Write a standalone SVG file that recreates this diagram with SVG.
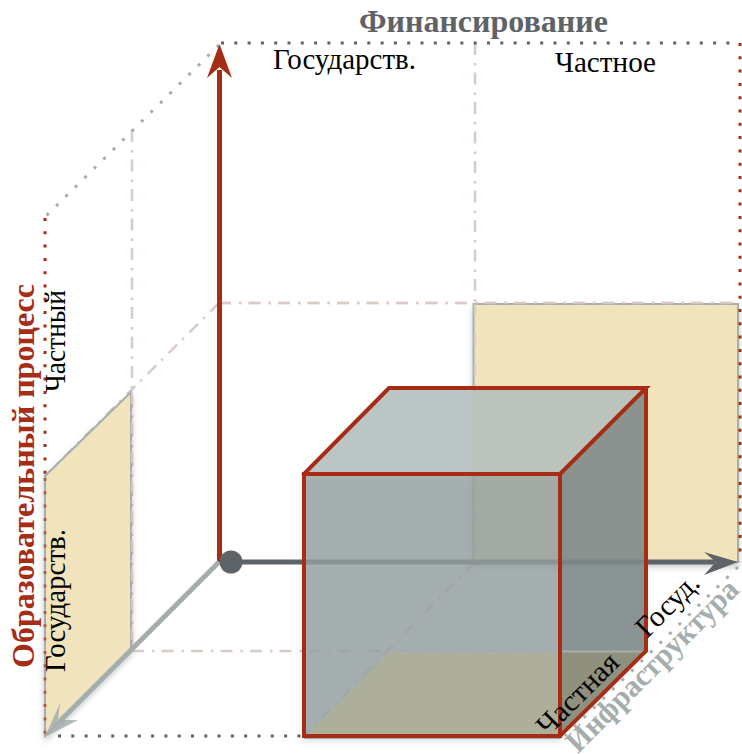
<svg xmlns="http://www.w3.org/2000/svg" width="742" height="754" viewBox="0 0 742 754">
<defs>
<style>
.dd{fill:none;stroke:#D9CBC6;stroke-width:2.5;stroke-dasharray:12 8 2.5 7}
.dot{fill:none;stroke-width:3;stroke-dasharray:3 10.3}
.t{font-family:"Liberation Serif",serif;font-size:29.5px;fill:#000}
.b{font-family:"Liberation Serif",serif;font-size:31px;font-weight:bold}
.r{stroke:#A62C15;stroke-width:4;fill:none;stroke-linejoin:miter;stroke-linecap:square}
</style>
<filter id="s" x="-10%" y="-10%" width="120%" height="125%"><feDropShadow dx="0" dy="4" stdDeviation="3" flood-color="#000" flood-opacity="0.22"/></filter>
</defs>
<rect width="742" height="754" fill="#fff"/>
<g id="grid">
<path class="dd" d="M475 43V562M219 303H738M219 303L45 476M132 130V651M132 651H646M475 562L304 736"/>
<path class="dot" stroke="#5E6368" d="M221 43H738"/>
<path class="dot" stroke="#5E6368" d="M58 736H304"/>
<path class="dot" stroke="#A5AEAD" d="M219 45L45 217"/>
<path class="dot" stroke="#A62C15" d="M45 218V476"/>
</g>
<g id="panel-right"><rect x="473.5" y="304" width="264.500" height="258" fill="#F1E3BC" stroke="#A5AEAD" stroke-width="2" filter="url(#s)"/></g>
<g id="panel-left"><path d="M45 476L131 392V650L45 736Z" fill="#F1E3BC" stroke="#A5AEAD" stroke-width="2" filter="url(#s)"/></g>
<g id="overlay">
<path class="dd" opacity="0.8" d="M475 304V562M219 303H738M132 392V651"/>
<path class="dot" stroke="#A62C15" d="M740 43V562"/>
<path class="dot" stroke="#A62C15" opacity="0.6" d="M45 478V736"/>
<path class="dot" stroke="#A5AEAD" d="M738 567L565 736"/>
</g>
<g id="connectors">
<path d="M219.500 562V70" stroke="#A62C15" stroke-width="5" fill="none"/>
<path d="M219.500 44L232 78L219.500 67L207 78Z" fill="#A62C15"/>
<path d="M231 562H715" stroke="#5E6368" stroke-width="5" fill="none"/>
<path d="M738 562L704 552L716 562L704 575Z" fill="#5E6368"/>
<path d="M219 562L60 721" stroke="#A5AEAD" stroke-width="5" fill="none"/>
<path d="M45 737L60 703L58 720L78 720Z" fill="#A5AEAD" fill-opacity="0.85"/>
<circle cx="231" cy="562" r="11.500" fill="#5E6368"/>
</g>
<g id="cube">
<path d="M304 474L389 388H473.500V474Z" fill="#BBC5C3"/>
<path d="M473.500 388H646L560 474H473.500Z" fill="#BCC3BC"/>
<rect x="304" y="474" width="256" height="262" fill="#95A0A1" fill-opacity="0.79" filter="url(#s)"/>
<path d="M560 474L646 388V651L560 736Z" fill="#7D888A" fill-opacity="0.9"/>
<path d="M306 736L389 652H560V736Z" fill="#AEAF9B" stroke="#A5AEAD" stroke-width="1.500"/>
<path d="M560 652H646L560 736Z" fill="#8F907E"/>
<path d="M304 738H560M389 651.500H646" stroke="#A5AEAD" stroke-width="2" fill="none"/>
<path class="r" d="M304 474H560V736H304ZM304 474L389 388H646L560 474M646 388V651L560 736"/>
</g>
<g id="labels">
<text class="b" x="359" y="32" fill="#5E6368" textLength="249" lengthAdjust="spacingAndGlyphs">Финансирование</text>
<text class="t" x="273" y="69" textLength="143" lengthAdjust="spacingAndGlyphs">Государств.</text>
<text class="t" x="555" y="72" textLength="101" lengthAdjust="spacingAndGlyphs">Частное</text>
<text class="b" transform="translate(34 668) rotate(-90)" fill="#A62C15" textLength="384" lengthAdjust="spacingAndGlyphs">Образовательный процесс</text>
<text class="t" transform="translate(65 392) rotate(-90)" textLength="102" lengthAdjust="spacingAndGlyphs">Частный</text>
<text class="t" transform="translate(65 672) rotate(-90)" textLength="143" lengthAdjust="spacingAndGlyphs">Государств.</text>
<text class="t" transform="translate(647 639) rotate(-45)" textLength="77" lengthAdjust="spacingAndGlyphs">Госуд.</text>
<text class="t" transform="translate(548 737) rotate(-45)" textLength="103" lengthAdjust="spacingAndGlyphs">Частная</text>
<text class="b" transform="translate(578 754) rotate(-45)" fill="#A5AEAD" textLength="230" lengthAdjust="spacingAndGlyphs">Инфраструктура</text>
</g>
</svg>
